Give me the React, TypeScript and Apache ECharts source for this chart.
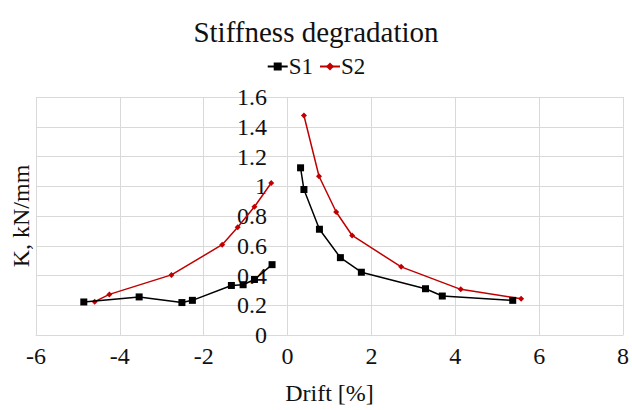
import React, { useEffect, useRef } from "react";
import * as echarts from "echarts";

const s1LeftDrift = [-4.86, -3.54, -2.52, -2.27, -1.34, -1.06, -0.79, -0.37];
const s1LeftK = [0.222, 0.256, 0.218, 0.233, 0.333, 0.338, 0.373, 0.473];
const s1RightDrift = [0.31, 0.39, 0.76, 1.26, 1.76, 3.29, 3.69, 5.37];
const s1RightK = [1.124, 0.978, 0.711, 0.52, 0.422, 0.311, 0.262, 0.233];

const s2LeftDrift = [-4.6, -4.25, -2.77, -1.56, -1.19, -0.79, -0.39];
const s2LeftK = [0.224, 0.273, 0.404, 0.607, 0.724, 0.862, 1.022];
const s2RightDrift = [0.39, 0.75, 1.16, 1.54, 2.71, 4.13, 5.57];
const s2RightK = [1.476, 1.067, 0.827, 0.669, 0.458, 0.307, 0.244];

const FONT = "Times New Roman, Liberation Serif, DejaVu Serif, serif";

function pairs(xs: number[], ys: number[]) {
  return xs.map((x, i) => [x, ys[i]]);
}

function withGap(lx: number[], ly: number[], rx: number[], ry: number[]) {
  return [...pairs(lx, ly), [0, "-"], ...pairs(rx, ry)];
}

export default function App() {
  const ref = useRef<HTMLDivElement>(null);
  useEffect(() => {
    if (!ref.current) return;
    const chart = echarts.init(ref.current, undefined, { renderer: "svg" });
    chart.setOption({
      animation: false,
      backgroundColor: "#fff",
      textStyle: { fontFamily: FONT, color: "#111" },
      title: {
        text: "Stiffness degradation",
        left: "center",
        top: 12,
        textStyle: { fontFamily: FONT, fontSize: 29, fontWeight: "normal", color: "#111" },
      },
      legend: {
        top: 50,
        left: "center",
        itemWidth: 20,
        itemHeight: 10,
        itemGap: 6,
        textStyle: { fontFamily: FONT, fontSize: 23, color: "#111", padding: [0, 0, 0, -4] },
        data: ["S1", "S2"],
      },
      grid: { left: 36, right: 8, top: 97, bottom: 73, containLabel: false },
      xAxis: {
        type: "value",
        min: -6,
        max: 8,
        interval: 2,
        name: "Drift [%]",
        nameLocation: "middle",
        nameGap: 46,
        nameTextStyle: { fontFamily: FONT, fontSize: 24, color: "#111" },
        axisLine: { show: true, onZero: false, lineStyle: { color: "#d9d9d9", width: 1 } },
        axisTick: { show: false },
        axisLabel: { fontFamily: FONT, fontSize: 24, color: "#111", margin: 9 },
        splitLine: { show: true, lineStyle: { color: "#d9d9d9", width: 1 } },
      },
      yAxis: {
        type: "value",
        min: 0,
        max: 1.6,
        interval: 0.2,
        offset: -252,
        axisLine: { show: false, onZero: false },
        axisTick: { show: false },
        axisLabel: { fontFamily: FONT, fontSize: 24, color: "#111", margin: 21 },
        splitLine: { show: true, lineStyle: { color: "#d9d9d9", width: 1 } },
      },
      graphic: [
        {
          type: "text",
          x: 21,
          y: 216,
          rotation: Math.PI / 2,
          style: {
            text: "K, kN/mm",
            fontFamily: FONT,
            fontSize: 24,
            fill: "#111",
            align: "center",
            verticalAlign: "middle",
          },
        },
      ],
      series: [
        {
          name: "S1",
          type: "line",
          data: withGap(s1LeftDrift, s1LeftK, s1RightDrift, s1RightK),
          connectNulls: false,
          symbol: "rect",
          symbolSize: 7,
          itemStyle: { color: "#000" },
          lineStyle: { color: "#000", width: 1.5 },
          z: 3,
        },
        {
          name: "S2",
          type: "line",
          data: withGap(s2LeftDrift, s2LeftK, s2RightDrift, s2RightK),
          connectNulls: false,
          symbol: "diamond",
          symbolSize: 6,
          itemStyle: { color: "#c00000" },
          lineStyle: { color: "#c00000", width: 1.5 },
          z: 2,
        },
      ],
    });
    return () => chart.dispose();
  }, []);
  return <div ref={ref} style={{ width: 632, height: 410, position: "absolute", left: 0, top: 0 }} />;
}
